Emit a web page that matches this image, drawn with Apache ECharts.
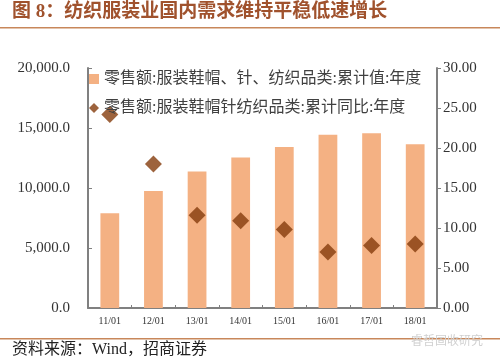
<!DOCTYPE html>
<html><head><meta charset="utf-8">
<script src="https://cdn.jsdelivr.net/npm/echarts@6/dist/echarts.min.js"></script>
<style>html,body{margin:0;padding:0;background:#fff}#c{width:500px;height:363px}</style>
</head><body><div id="c"></div>
<script>
const categories = ['11/01','12/01','13/01','14/01','15/01','16/01','17/01','18/01'];
const retailValue = [7890, 9750, 11370, 12540, 13420, 14430, 14560, 13650];
const retailYoY = [24.2, 18.0, 11.6, 10.9, 9.8, 7.0, 7.8, 8.0];
const leftTicks = [0, 5000, 10000, 15000, 20000];
const rightTicks = [0, 5, 10, 15, 20, 25, 30];
const seriesNames = ['零售额:服装鞋帽、针、纺织品类:累计值:年度', '零售额:服装鞋帽针纺织品类:累计同比:年度'];
const titleText = '图 8：纺织服装业国内需求维持平稳低速增长';
const sourceText = '资料来源：Wind，招商证券';

const serif = '"Liberation Serif","Times New Roman","Noto Sans CJK SC",serif';
const chart = echarts.init(document.getElementById('c'), null, {renderer:'canvas'});
chart.setOption({
  animation:false,
  backgroundColor:'#fff',
  grid:{left:88,right:63,top:68,bottom:55},
  legend:{
    orient:'vertical', left:84, top:66, itemGap:13, itemWidth:10, itemHeight:10,
    textStyle:{fontFamily:serif, fontSize:16, color:'#404040'},
    data:[{name:seriesNames[0], icon:'rect'},{name:seriesNames[1], icon:'diamond'}]
  },
  graphic:[
    {type:'text', left:12, top:3, style:{text:titleText, font:'bold 19px '+serif, fill:'#A0522D', letterSpacing:1}},
    {type:'rect', shape:{x:0,y:27,width:500,height:1.5}, style:{fill:'#C8875A'}},
    {type:'rect', shape:{x:0,y:338,width:500,height:1.5}, style:{fill:'#C8875A'}},
    {type:'text', left:12, top:342, style:{text:sourceText, font:'16px '+serif, fill:'#222', letterSpacing:1}},
    {type:'text', left:411, top:334, style:{text:'睿哲固收研究', font:'12px "Noto Sans CJK SC",sans-serif', fill:'#d0d0d0'}}
  ],
  xAxis:{
    type:'category', data:categories,
    axisLine:{lineStyle:{color:'#808080', width:2}},
    axisTick:{show:true, inside:true, length:3, lineStyle:{color:'#808080'}},
    axisLabel:{fontFamily:serif, fontSize:10, color:'#333', margin:8}
  },
  yAxis:[
    {type:'value', min:leftTicks[0], max:leftTicks[leftTicks.length-1], interval:5000,
     axisLine:{show:true, lineStyle:{color:'#808080', width:2}},
     axisTick:{show:true, inside:true, length:4, lineStyle:{color:'#808080'}},
     splitLine:{show:false},
     axisLabel:{fontFamily:serif, fontSize:15, color:'#333', margin:18,
       formatter:v=>v.toLocaleString('en-US',{minimumFractionDigits:1,maximumFractionDigits:1})}},
    {type:'value', min:rightTicks[0], max:rightTicks[rightTicks.length-1], interval:5, position:'right',
     axisLine:{show:true, lineStyle:{color:'#808080', width:2}},
     axisTick:{show:true, inside:false, length:4, lineStyle:{color:'#808080'}},
     splitLine:{show:false},
     axisLabel:{fontFamily:serif, fontSize:15, color:'#333', margin:6, formatter:v=>v.toFixed(2)}}
  ],
  series:[
    {name:seriesNames[0], type:'bar', data:retailValue, barWidth:'43%', yAxisIndex:0,
     itemStyle:{color:'#F4B183'}},
    {name:seriesNames[1], type:'scatter', data:retailYoY, yAxisIndex:1, symbol:'diamond', symbolSize:17,
     itemStyle:{color:'#843C0C'}}
  ]
});
</script></body></html>
